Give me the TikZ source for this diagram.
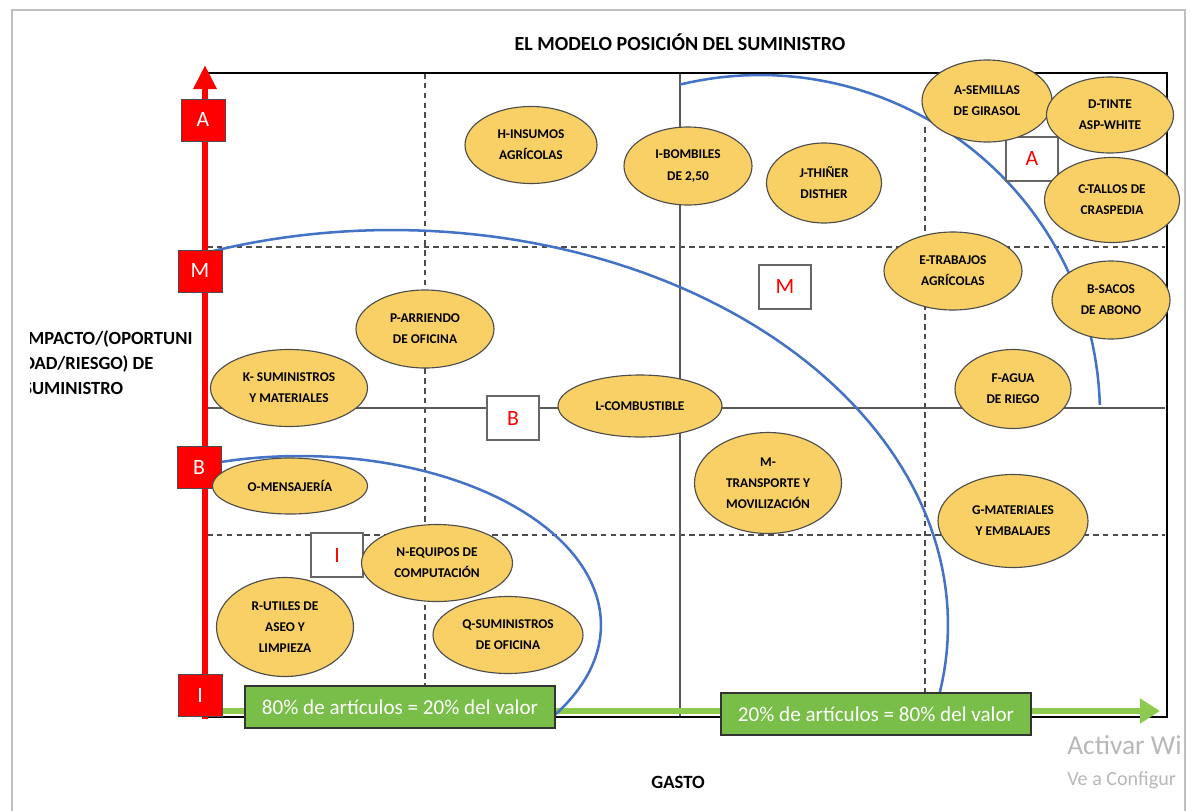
\documentclass[tikz,border=0pt]{standalone}
\usepackage{fontspec}
\setmainfont{Carlito}
\usetikzlibrary{shapes.geometric}
\usetikzlibrary{arrows.meta}
\usetikzlibrary{positioning}
\definecolor{itemfill}{RGB}{249,208,102}
\definecolor{curveblue}{RGB}{68,114,196}
\definecolor{sharegreen}{RGB}{122,190,74}
\definecolor{arrowgreen}{RGB}{140,202,80}

\begin{document}
\begin{tikzpicture}[x=0.025cm, y=-0.025cm,
		item/.style 2 args={ellipse, draw=black!70, fill=itemfill, line width=0.8pt, inner sep=0pt, align=center,
			minimum width=#1*0.025cm, minimum height=#2*0.025cm, font=\fontsize{9.5}{15}\selectfont\bfseries},
		level/.style={rectangle, draw=black!70, fill=red, text=white, inner sep=0pt,
			minimum width=1.1cm, minimum height=1.05cm, font=\fontsize{15.5}{18}\selectfont},
		zone/.style={rectangle, draw=black!60, fill=white, text=red, line width=1pt, inner sep=0pt,
			minimum width=1.3cm, minimum height=1.1cm, font=\fontsize{15.5}{18}\selectfont},
		share/.style={rectangle, draw=black!80, fill=sharegreen, text=white, line width=0.8pt,
			minimum width=7.75cm, minimum height=1.05cm, font=\fontsize{15}{18}\selectfont},
		solidline/.style={black!65, line width=1pt},
		splitline/.style={black!70, line width=1pt, dash pattern=on 4pt off 3pt},
		curve/.style={curveblue, line width=1.8pt}]
		\useasboundingbox (0,0) rectangle (1196,810);
		% page edge
		\draw[black!25, line width=1.2pt] (12,815) -- (12,10) -- (1185,10) -- (1185,815);

		\node[font=\fontsize{14.2}{17}\selectfont\bfseries] (title) at (680,42) {EL MODELO POSICIÓN DEL SUMINISTRO};

		% quadrant lines
		\draw[splitline] (425,73) -- (425,717);
		\draw[splitline] (925,127) -- (925,717);
		\draw[splitline] (207,247) -- (1165,247);
		\draw[splitline] (207,535) -- (1165,535);
		\draw[solidline] (680,73) -- (680,717);
		\draw[solidline] (207,408) -- (1165,408);

		% frame and axes
		\coordinate (ytip) at (205,65);
		\coordinate (xtip) at (1160,711);
		\draw[black, line width=1.8pt] (207,73) -- (1167,73) -- (1167,717) -- (205,717);
		\draw[red, line width=4.3pt, -{Triangle[width=0.55cm,length=0.6cm]}] (205,719) -- (ytip);
		\draw[arrowgreen, line width=4pt, -{Triangle[width=0.6cm,length=0.5cm]}] (200,711) -- (xtip);

		% zone borders
		\draw[curve, domain=249.8:369.9, samples=80] plot ({392+556*cos(\x)}, {625+395*sin(\x)});
		\draw[curve, domain=255:392.2, samples=60] plot ({300+301*cos(\x)}, {625+169*sin(\x)});
		\draw[curve, domain=256.4:358.3, samples=60] plot ({760+340*cos(\x)}, {415+340*sin(\x)});

		% levels
		\node[level] (la) at (203,120) {A};
		\node[level] (lm) at (200,271) {M};
		\node[level] (lb) at (199,467) {B};
		\node[level] (li) at (200,695) {I};

		\node[zone] (za) at (1032,159) {A};
		\node[zone] (zm) at (785,287) {M};
		\node[zone] (zb) at (513,418) {B};
		\node[zone] (zi) at (337,555) {I};

		% items
		\node[item={132}{77}] (insumos) at (531,145) {H-INSUMOS\\AGRÍCOLAS};
		\node[item={128}{78}] (bombiles) at (688,166) {I-BOMBILES\\DE 2,50};
		\node[item={115}{80}] (thinner) at (824,183) {J-THIÑER\\DISTHER};
		\node[item={130}{82}] (semillas) at (987,101) {A-SEMILLAS\\DE GIRASOL};
		\node[item={127}{76}] (tinte) at (1110,115) {D-TINTE\\ASP-WHITE};
		\node[item={135}{85}] (tallos) at (1112,200) {C-TALLOS DE\\CRASPEDIA};
		\node[item={138}{78}] (trabajos) at (953,271) {E-TRABAJOS\\AGRÍCOLAS};
		\node[item={118}{78}] (sacos) at (1111,300) {B-SACOS\\DE ABONO};
		\node[item={138}{78}] (arriendo) at (425,329) {P-ARRIENDO\\DE OFICINA};
		\node[item={157}{77}] (suministros) at (289,388) {K- SUMINISTROS\\Y MATERIALES};
		\node[item={164}{62}] (combustible) at (640,406) {L-COMBUSTIBLE};
		\node[item={116}{79}] (agua) at (1013,389) {F-AGUA\\DE RIEGO};
		\node[item={155}{56}] (mensajeria) at (290,486) {O-MENSAJERÍA};
		\node[item={147}{101}] (transporte) at (768,483) {M-\\TRANSPORTE Y\\MOVILIZACIÓN};
		\node[item={150}{93}] (materiales) at (1013,521) {G-MATERIALES\\Y EMBALAJES};
		\node[item={151}{77}] (equipos) at (437,563) {N-EQUIPOS DE\\COMPUTACIÓN};
		\node[item={137}{99}] (utiles) at (285,627) {R-UTILES DE\\ASEO Y\\LIMPIEZA};
		\node[item={150}{77}] (oficina) at (508,635) {Q-SUMINISTROS\\DE OFICINA};

		% value shares
		\node[share] (low) at (400,707) {80\% de artículos = 20\% del valor};
		\node[share] (high) at (876,714) {20\% de artículos = 80\% del valor};

		% axis names
		\begin{scope}
			\clip (30,310) rectangle (200,410);
			\node[anchor=base west, inner sep=0pt, font=\fontsize{13.2}{16}\selectfont\bfseries] (ylab1) at (23,344) {IMPACTO/(OPORTUNI};
			\node[anchor=base west, inner sep=0pt, font=\fontsize{13.2}{16}\selectfont\bfseries] (ylab2) at (23,369) {DAD/RIESGO) DE};
			\node[anchor=base west, inner sep=0pt, font=\fontsize{13.2}{16}\selectfont\bfseries] (ylab3) at (23,394) {SUMINISTRO};
		\end{scope}
		\node[font=\fontsize{13.3}{16}\selectfont\bfseries] (gasto) at (678,782) {GASTO};

		\node[anchor=west, inner sep=0pt, text=black!28, font=\fontsize{19.5}{22}\selectfont] (activar) at (1067,745) {Activar Wi};
		\node[anchor=west, inner sep=0pt, text=black!28, font=\fontsize{14.3}{17}\selectfont] (config) at (1067,780) {Ve a Configur};
\end{tikzpicture}
\end{document}
